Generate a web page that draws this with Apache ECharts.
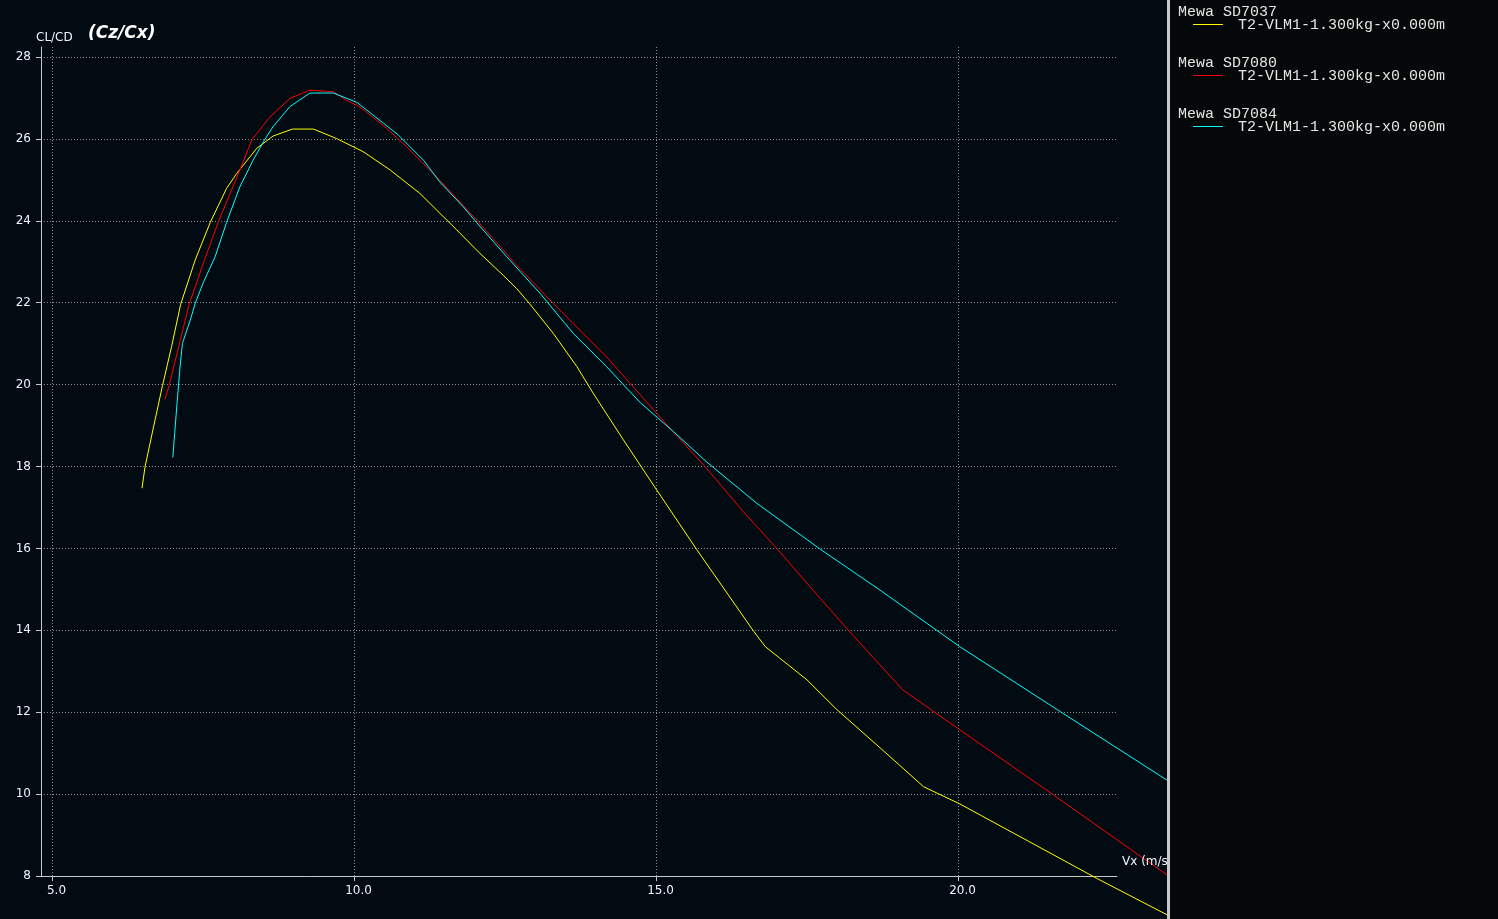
<!DOCTYPE html>
<html><head><meta charset="utf-8">
<script src="https://cdn.jsdelivr.net/npm/echarts@6/dist/echarts.min.js"></script>
<style>html,body{margin:0;padding:0;background:#020a12;overflow:hidden}#c{width:1498px;height:919px}</style>
</head><body><div id="c"></div>
<script>
// ---- data ----
const seriesNames = ['Mewa SD7037', 'Mewa SD7080', 'Mewa SD7084'];
const caseLabel = 'T2-VLM1-1.300kg-x0.000m';
const chartTitle = '(Cz/Cx)';
const yName = 'CL/CD';
const xName = 'Vx (m/s)';

const vx7037 = [6.49, 6.54, 6.67, 6.83, 6.98, 7.13, 7.37, 7.62, 7.89, 8.06, 8.39, 8.66, 8.98, 9.33, 9.71, 10.15, 10.60, 11.09, 11.37, 11.70, 12.06, 12.47, 12.69, 12.91, 13.30, 13.69, 13.96, 14.46, 15.01, 15.67, 16.61, 16.81, 17.50, 17.99, 18.71, 19.09, 19.43, 20.03, 22.30, 24.00];
const cl7037 = [17.47, 17.99, 18.89, 19.98, 20.93, 21.96, 23.04, 23.96, 24.79, 25.16, 25.77, 26.07, 26.24, 26.24, 26.01, 25.69, 25.24, 24.67, 24.26, 23.78, 23.24, 22.67, 22.35, 21.97, 21.25, 20.44, 19.79, 18.65, 17.43, 15.98, 13.99, 13.60, 12.79, 12.07, 11.13, 10.63, 10.18, 9.76, 7.94, 6.64];

const vx7080 = [6.87, 6.94, 7.27, 7.51, 7.75, 8.11, 8.31, 8.61, 8.94, 9.27, 9.66, 9.88, 10.10, 10.54, 10.87, 11.42, 12.03, 12.64, 13.30, 14.18, 15.01, 15.84, 16.45, 17.00, 17.60, 18.21, 19.09, 20.03, 21.58, 23.07, 24.00];
const cl7080 = [19.64, 19.98, 21.96, 22.98, 23.96, 25.24, 25.98, 26.54, 26.99, 27.19, 27.15, 26.94, 26.78, 26.26, 25.81, 24.99, 24.02, 23.00, 21.98, 20.68, 19.30, 17.95, 16.89, 16.00, 14.98, 13.96, 12.54, 11.57, 9.98, 8.43, 7.47];

const vx7084 = [7.00, 7.07, 7.12, 7.16, 7.29, 7.37, 7.51, 7.70, 7.89, 8.11, 8.33, 8.50, 8.66, 8.94, 9.27, 9.66, 10.05, 10.49, 10.73, 11.15, 11.42, 11.81, 12.03, 12.53, 13.08, 13.63, 14.18, 14.74, 15.29, 15.84, 16.67, 17.72, 18.71, 20.03, 21.74, 23.46, 24.00];
const cl7084 = [18.22, 19.54, 20.43, 21.01, 21.58, 21.98, 22.51, 23.12, 23.96, 24.83, 25.48, 25.93, 26.30, 26.79, 27.12, 27.12, 26.89, 26.38, 26.10, 25.48, 24.95, 24.34, 23.96, 23.12, 22.23, 21.25, 20.44, 19.56, 18.85, 18.11, 17.10, 15.98, 14.98, 13.60, 11.97, 10.34, 9.82];

const xTicks = [5, 10, 15, 20];
const yTicks = [8, 10, 12, 14, 16, 18, 20, 22, 24, 26, 28];

// ---- build ----
const zip = (a, b) => a.map((v, i) => [v, b[i]]);
const seriesData = [zip(vx7037, cl7037), zip(vx7080, cl7080), zip(vx7084, cl7084)];
const colors = ['#ffff00', '#ff0000', '#00ffff'];

const axisColor = '#c8c8c8';
const gridColor = '#8c8c8c';
const labelColor = '#eef4ff';
const sans = '"DejaVu Sans", Verdana, sans-serif';
const mono = '"Liberation Mono", "Courier New", monospace';

const graphics = [
  { type: 'text', left: 36, top: 32, z: 10, style: { text: yName, font: '12px ' + sans, fill: labelColor } },
  { type: 'text', left: 88, top: 25, z: 10, style: { text: chartTitle, font: 'italic bold 17px ' + sans, fill: '#ffffff' } },
  { type: 'text', left: 1122, top: 856, z: 10, style: { text: xName, font: '12px ' + sans, fill: labelColor } },
  { type: 'rect', z: 100, shape: { x: 1170, y: 0, width: 328, height: 919 }, style: { fill: '#040808' } },
  { type: 'rect', z: 100, shape: { x: 1167, y: 0, width: 3, height: 919 }, style: { fill: '#c8c8c8' } }
];
seriesNames.forEach((n, i) => {
  const y0 = 12 + 51 * i;
  graphics.push({ type: 'text', z: 101, style: { x: 1178, y: y0, text: n, font: '15px ' + mono, fill: '#e4e4e4', verticalAlign: 'middle' } });
  graphics.push({ type: 'line', z: 101, shape: { x1: 1193, y1: y0 + 12.5, x2: 1223, y2: y0 + 12.5 }, style: { stroke: colors[i], lineWidth: 1 } });
  graphics.push({ type: 'text', z: 101, style: { x: 1238, y: y0 + 13, text: caseLabel, font: '15px ' + mono, fill: '#e4e4e4', verticalAlign: 'middle' } });
});

const option = {
  animation: false,
  backgroundColor: '#020a12',
  grid: [
    { left: 41, top: 47, width: 1076, height: 829 },
    { left: 41, top: 0, width: 1126, height: 919 }
  ],
  xAxis: [
    {
      type: 'value', gridIndex: 0, min: 4.8179, max: 22.632, interval: 5,
      axisLine: { onZero: false, lineStyle: { color: axisColor, width: 1 } },
      axisTick: { show: true, length: 5, customValues: xTicks, lineStyle: { color: axisColor } },
      axisLabel: { customValues: xTicks, margin: 9, color: labelColor, fontSize: 12, fontFamily: sans, padding: [0, 0, 0, 9], formatter: v => v.toFixed(1) },
      splitLine: { show: true, lineStyle: { color: gridColor, width: 1, type: [1, 2] } }
    },
    { type: 'value', gridIndex: 1, min: 4.8179, max: 23.460, show: false, splitLine: { show: false } }
  ],
  yAxis: [
    {
      type: 'value', gridIndex: 0, min: 8, max: 28.244, interval: 2,
      axisLine: { show: true, onZero: false, lineStyle: { color: axisColor, width: 1 } },
      axisTick: { show: true, length: 5, customValues: yTicks, lineStyle: { color: axisColor } },
      axisLabel: { customValues: yTicks, margin: 10, color: labelColor, fontSize: 12, fontFamily: sans },
      splitLine: { show: true, lineStyle: { color: gridColor, width: 1, type: [1, 2] } }
    },
    { type: 'value', gridIndex: 1, min: 6.950, max: 29.392, show: false, splitLine: { show: false } }
  ],
  series: seriesData.map((d, i) => ({
    name: seriesNames[i], type: 'line', xAxisIndex: 1, yAxisIndex: 1,
    data: d, showSymbol: false, symbol: 'none', clip: true, z: 5,
    lineStyle: { color: colors[i], width: 1 }, itemStyle: { color: colors[i] }
  })),
  graphic: graphics
};
const chart = echarts.init(document.getElementById('c'));
chart.setOption(option);
</script></body></html>
